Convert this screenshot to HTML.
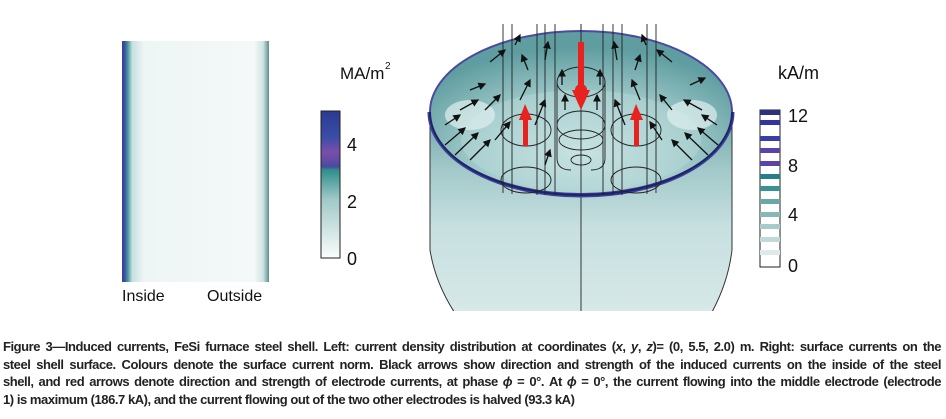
<!DOCTYPE html>
<html><head><meta charset="utf-8"><style>
html,body{margin:0;padding:0;background:#fff;width:946px;height:419px;overflow:hidden}
.cap{position:absolute;left:3px;width:938px;font:bold 13px/17.5px "Liberation Sans",sans-serif;color:#222;letter-spacing:-0.45px}
.cap div{text-align:justify;text-align-last:justify;white-space:nowrap}
.cap div.last{text-align-last:left}
</style></head><body>
<svg width="946" height="419" style="position:absolute;left:0;top:0" font-family="Liberation Sans, sans-serif">
<defs>
<linearGradient id="lp" x1="0" x2="1">
<stop offset="0" stop-color="#3a3a9a"/><stop offset="0.02" stop-color="#3b56a0"/><stop offset="0.04" stop-color="#4a9a9a"/><stop offset="0.07" stop-color="#c7e0e0"/><stop offset="0.15" stop-color="#eef5f5"/><stop offset="0.9" stop-color="#f4f8f8"/><stop offset="0.96" stop-color="#cfe3e3"/><stop offset="1" stop-color="#5d8f8f"/>
</linearGradient>
<linearGradient id="cb1" x1="0" y1="1" x2="0" y2="0">
<stop offset="0" stop-color="#fbfdfd"/><stop offset="0.4" stop-color="#9fc9c7"/><stop offset="0.6" stop-color="#2d8f8c"/><stop offset="0.62" stop-color="#4a4aa0"/><stop offset="0.72" stop-color="#7a4eaa"/><stop offset="0.82" stop-color="#3a4ea8"/><stop offset="1" stop-color="#2a3a90"/>
</linearGradient>
<linearGradient id="side" x1="0" y1="0" x2="0" y2="1">
<stop offset="0" stop-color="#6fa5a8"/><stop offset="0.25" stop-color="#a3c9ca"/><stop offset="0.5" stop-color="#c8e0e0"/><stop offset="1" stop-color="#dcebeb"/>
</linearGradient>
<radialGradient id="inner" cx="0.5" cy="0.75" r="0.65">
<stop offset="0" stop-color="#d8ecec"/><stop offset="0.5" stop-color="#a6cdcd"/><stop offset="1" stop-color="#5f9da0"/>
</radialGradient>
<clipPath id="cp"><rect x="0" y="0" width="946" height="311"/></clipPath>
<marker id="ah" markerWidth="6" markerHeight="6" refX="5" refY="3" orient="auto"><path d="M0,0L6,3L0,6z" fill="#111"/></marker>
</defs>
<rect x="122" y="41" width="147" height="241" fill="url(#lp)"/>
<text x="122" y="301" font-size="16" fill="#111">Inside</text>
<text x="207" y="301" font-size="16" fill="#111">Outside</text>
<text x="340" y="79" font-size="17" fill="#111">MA/m</text><text x="385" y="69" font-size="10" fill="#111">2</text>
<rect x="321" y="111" width="19" height="147" fill="url(#cb1)" stroke="#222" stroke-width="1"/>
<g font-size="18" fill="#111"><text x="347" y="151">4</text><text x="347" y="208">2</text><text x="347" y="265">0</text></g>
<g clip-path="url(#cp)">
<path d="M430,112 L430,250 Q438,300 480,345 L690,345 Q726,300 732,250 L732,112 Z" fill="url(#side)" stroke="#333" stroke-width="1"/>
<line x1="581" y1="24" x2="581" y2="320" stroke="#222" stroke-width="0.9"/>
</g>
<path d="M430,112 A151,83 0 0 0 732,112" fill="none" stroke="#3b3f98" stroke-width="5"/>
<ellipse cx="581" cy="112" rx="151" ry="81" fill="url(#inner)"/>
<ellipse cx="581" cy="140" rx="120" ry="50" fill="#b6d7d7" opacity=".5"/>
<ellipse cx="470" cy="115" rx="25" ry="15" fill="#e0efef" opacity=".7"/>
<ellipse cx="692" cy="115" rx="25" ry="15" fill="#e0efef" opacity=".7"/>
<path d="M430,112 A151,81 0 0 1 732,112" fill="none" stroke="#4a4aa0" stroke-width="2"/>
<path d="M430,112 A151,83 0 0 0 732,112" fill="none" stroke="#1e2466" stroke-width="2"/>
<g fill="none" stroke="#222" stroke-width="0.9">
<ellipse cx="581" cy="82" rx="24" ry="15"/>
<ellipse cx="581" cy="125" rx="24" ry="14"/>
<ellipse cx="581" cy="140" rx="22" ry="10"/>
<ellipse cx="581" cy="160" rx="10" ry="5"/>
<path d="M557,82 V158 Q557,170 571,170 M605,82 V158 Q605,170 591,170"/>
<ellipse cx="526" cy="130" rx="25" ry="16"/>
<ellipse cx="636" cy="130" rx="25" ry="16"/>
<ellipse cx="526" cy="180" rx="25" ry="13"/>
<ellipse cx="636" cy="180" rx="25" ry="13"/>
</g>
<g stroke="#222" stroke-width="0.9">
<line x1="503" y1="24" x2="503" y2="193"/><line x1="512" y1="24" x2="512" y2="194"/><line x1="537" y1="24" x2="537" y2="195"/><line x1="545" y1="24" x2="545" y2="195"/><line x1="555" y1="24" x2="555" y2="195"/>
<line x1="581" y1="24" x2="581" y2="195"/>
<line x1="603" y1="24" x2="603" y2="195"/><line x1="613" y1="24" x2="613" y2="195"/><line x1="622" y1="24" x2="622" y2="195"/><line x1="647" y1="24" x2="647" y2="194"/><line x1="656" y1="24" x2="656" y2="193"/>
</g>
<g stroke="#111" stroke-width="1.3" marker-end="url(#ah)">
<line x1="445" y1="145" x2="465" y2="128"/><line x1="455" y1="155" x2="478" y2="133"/><line x1="470" y1="160" x2="490" y2="140"/><line x1="460" y1="110" x2="478" y2="100"/><line x1="470" y1="90" x2="485" y2="84"/><line x1="485" y1="110" x2="500" y2="95"/><line x1="495" y1="140" x2="510" y2="122"/><line x1="520" y1="100" x2="530" y2="80"/><line x1="528" y1="70" x2="522" y2="55"/><line x1="535" y1="125" x2="545" y2="100"/><line x1="545" y1="165" x2="550" y2="150"/><line x1="445" y1="125" x2="460" y2="115"/><line x1="490" y1="62" x2="505" y2="50"/><line x1="515" y1="45" x2="520" y2="35"/>
<line x1="718" y1="145" x2="698" y2="128"/><line x1="708" y1="155" x2="685" y2="133"/><line x1="692" y1="160" x2="672" y2="140"/><line x1="702" y1="110" x2="684" y2="100"/><line x1="672" y1="110" x2="660" y2="95"/><line x1="662" y1="140" x2="650" y2="122"/><line x1="640" y1="100" x2="632" y2="80"/><line x1="635" y1="70" x2="640" y2="55"/><line x1="625" y1="125" x2="615" y2="100"/><line x1="690" y1="85" x2="705" y2="78"/><line x1="717" y1="125" x2="702" y2="115"/><line x1="672" y1="62" x2="657" y2="50"/><line x1="646" y1="45" x2="642" y2="35"/>
<line x1="562" y1="85" x2="562" y2="70"/><line x1="600" y1="85" x2="600" y2="70"/><line x1="565" y1="110" x2="565" y2="95"/><line x1="597" y1="110" x2="597" y2="95"/><line x1="545" y1="60" x2="548" y2="42"/><line x1="617" y1="60" x2="614" y2="42"/>
</g>
<g fill="#e8221e">
<rect x="578" y="42" width="6" height="50"/><path d="M572,90 L590,90 L581,110 Z"/><circle cx="581" cy="90" r="6"/>
<rect x="523" y="118" width="5" height="28"/><path d="M519,120 L532,120 L525,104 Z"/>
<rect x="634" y="118" width="5" height="28"/><path d="M630,120 L643,120 L636,104 Z"/>
</g>
<rect x="760" y="110" width="20" height="157" fill="#fff" stroke="#222"/>
<g>
<rect x="760" y="110" width="20" height="5" fill="#2d2f80"/><rect x="760" y="120" width="20" height="5" fill="#3036a0"/><rect x="760" y="136" width="20" height="5" fill="#3a3ea8"/><rect x="760" y="148" width="20" height="5" fill="#5a44a8"/><rect x="760" y="161" width="20" height="5" fill="#5a44a8"/><rect x="760" y="174" width="20" height="5" fill="#267f88"/><rect x="760" y="186" width="20" height="5" fill="#3a9292"/><rect x="760" y="199" width="20" height="5" fill="#6aa8a8"/><rect x="760" y="212" width="20" height="5" fill="#85b8b6"/><rect x="760" y="224" width="20" height="5" fill="#a6cbca"/><rect x="760" y="237" width="20" height="5" fill="#c0dada"/><rect x="760" y="250" width="20" height="5" fill="#dde9ea"/>
</g>
<g font-size="18" fill="#111"><text x="778" y="79">kA/m</text><text x="788" y="122">12</text><text x="788" y="172">8</text><text x="788" y="221">4</text><text x="788" y="272">0</text></g>
</svg>
<div class="cap" style="top:338px">
<div>Figure 3—Induced currents, FeSi furnace steel shell. Left: current density distribution at coordinates (<i>x</i>, <i>y</i>, <i>z</i>)= (0, 5.5, 2.0) m. Right: surface currents on the</div>
<div>steel shell surface. Colours denote the surface current norm. Black arrows show direction and strength of the induced currents on the inside of the steel</div>
<div>shell, and red arrows denote direction and strength of electrode currents, at phase <i>ϕ</i> = 0°. At <i>ϕ</i> = 0°, the current flowing into the middle electrode (electrode</div>
<div class="last">1) is maximum (186.7 kA), and the current flowing out of the two other electrodes is halved (93.3 kA)</div>
</div>
</body></html>
